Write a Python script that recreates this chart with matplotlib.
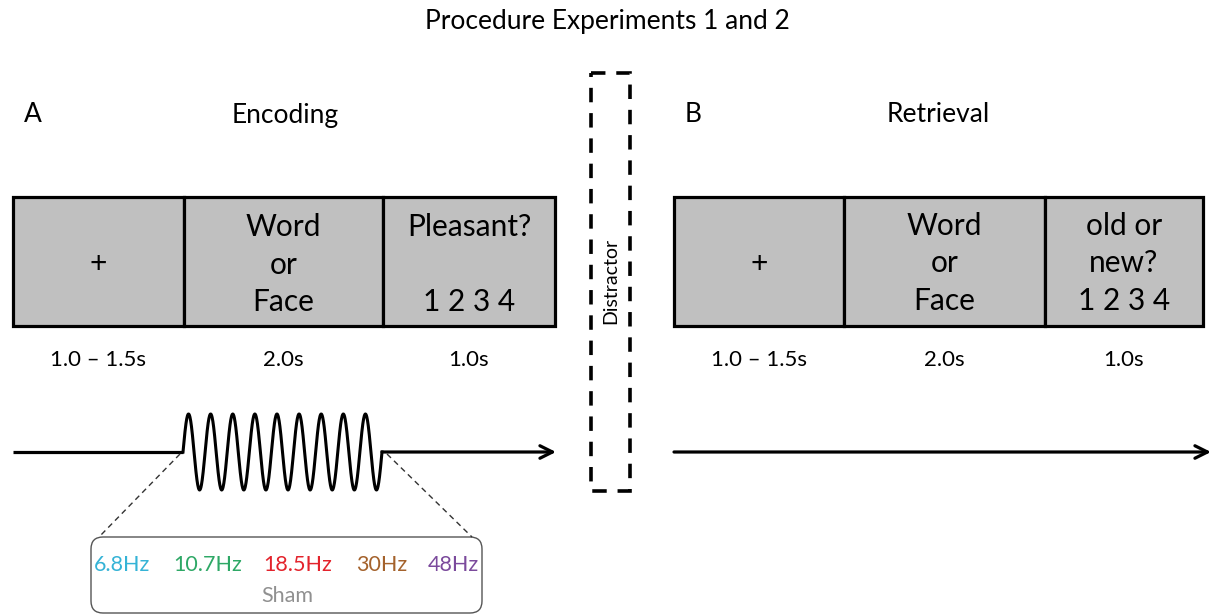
import numpy as np
import matplotlib.pyplot as plt
from matplotlib.patches import Rectangle, FancyBboxPatch

plt.rcParams['font.family'] = ['Lato', 'DejaVu Sans']

TITLE = "Procedure Experiments 1 and 2"

enc_labels = ["+", "Word\nor\nFace", "Pleasant?\n\n1 2 3 4"]
ret_labels = ["+", "Word\nor\nFace", "old or\nnew?\n1 2 3 4"]
durations = ["1.0 \u2013 1.5s", "2.0s", "1.0s"]

freqs = ["6.8Hz", "10.7Hz", "18.5Hz", "30Hz", "48Hz"]
freq_colors = ["#35b3d6", "#2ea866", "#e3232c", "#a4622c", "#7b4a9c"]
n_cycles = 9

# layout (pixel coordinates)
W, H = 1214, 616
enc_edges = [13, 184, 383, 555]
ret_edges = [674, 844, 1045, 1203]
box_top, box_bot = 197, 326
line_y = 452
gray = "#c0c0c0"

fig = plt.figure(figsize=(W / 100, H / 100), dpi=100)
ax = fig.add_axes([0, 0, 1, 1])
ax.set_xlim(0, W)
ax.set_ylim(H, 0)
ax.axis('off')

ax.text(W / 2, 22, TITLE, ha='center', va='center', fontsize=19)
ax.text(33, 115, "A", ha='center', va='center', fontsize=19)
ax.text(285, 115, "Encoding", ha='center', va='center', fontsize=19)
ax.text(693, 115, "B", ha='center', va='center', fontsize=19)
ax.text(938, 115, "Retrieval", ha='center', va='center', fontsize=19)


def draw_boxes(edges, labels, dy):
    for i, lab in enumerate(labels):
        x0, x1 = edges[i], edges[i + 1]
        ax.add_patch(Rectangle((x0, box_top), x1 - x0, box_bot - box_top,
                               facecolor=gray, edgecolor='black', linewidth=2.3))
        cx = (x0 + x1) / 2
        ax.text(cx, (box_top + box_bot) / 2 + dy, lab, ha='center', va='center',
                fontsize=21.5, linespacing=1.42)
        ax.text(cx, 360, durations[i], ha='center', va='center', fontsize=16)


draw_boxes(enc_edges, enc_labels, 3)
draw_boxes(ret_edges, ret_labels, 2)

# distractor
ax.add_patch(Rectangle((591, 73), 39, 418, facecolor='none', edgecolor='black',
                       linewidth=2.6, linestyle=(0, (4, 3))))
ax.text(611, 281, "Distractor", rotation=90, ha='center', va='center', fontsize=14)

# timeline A with stimulation burst
w0, w1 = 183, 382
xs = np.linspace(w0, w1, 800)
ys = line_y - 38 * np.sin(2 * np.pi * n_cycles * (xs - w0) / (w1 - w0))
ax.plot([13, w0], [line_y, line_y], color='black', lw=2.3, solid_capstyle='butt')
ax.plot(xs, ys, color='black', lw=2.2)
ax.annotate("", xy=(556, line_y), xytext=(w1, line_y),
            arrowprops=dict(arrowstyle='->,head_length=0.9,head_width=0.45',
                            color='black', lw=2.3, shrinkA=0, shrinkB=0))

# timeline B
ax.annotate("", xy=(1211, line_y), xytext=(674, line_y),
            arrowprops=dict(arrowstyle='->,head_length=0.9,head_width=0.45',
                            color='black', lw=2.3, shrinkA=0, shrinkB=0))

# zoom lines and frequency box
ax.plot([180, 99], [454, 537], color='#333333', lw=1.0, linestyle=(0, (4, 3)))
ax.plot([387, 472], [454, 537], color='#333333', lw=1.0, linestyle=(0, (4, 3)))
ax.add_patch(FancyBboxPatch((91, 537), 391, 76,
                            boxstyle="round,pad=0,rounding_size=12",
                            facecolor='white', edgecolor='#555555', linewidth=1.0))
fx = [122, 208, 298, 382, 453]
for x, f, c in zip(fx, freqs, freq_colors):
    ax.text(x, 565, f, ha='center', va='center', fontsize=15.5, color=c)
ax.text(287, 596, "Sham", ha='center', va='center', fontsize=15.5, color='#909090')

fig.savefig("out.png", dpi=100)
